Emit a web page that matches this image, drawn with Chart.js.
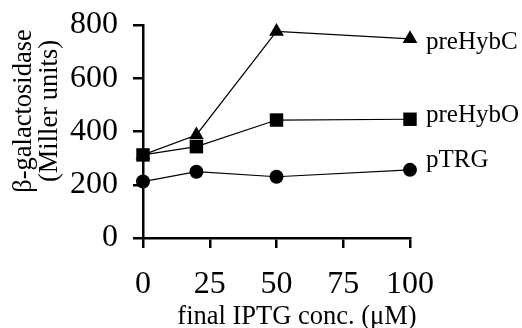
<!DOCTYPE html>
<html>
<head>
<meta charset="utf-8">
<script src="https://cdn.jsdelivr.net/npm/chart.js@4"></script>
<style>
  html, body { margin: 0; padding: 0; background: #fff; }
  #wrap { width: 522px; height: 328px; position: relative; }
</style>
</head>
<body>
<div id="wrap"><canvas id="chart"></canvas></div>
<script>
/* ── data ── */
const iptg      = [0, 20, 50, 100];          // final IPTG conc. (µM)
const pTRG      = [212, 249, 230, 256];
const preHybO   = [312, 343, 443, 446];
const preHybC   = [312, 387, 776, 748];
const xTicks    = [0, 25, 50, 75, 100];
const yTicks    = [0, 200, 400, 600, 800];

const SERIF = '"Liberation Serif", "Times New Roman", serif';
const INK   = '#000';

const pts = ys => iptg.map((x, i) => ({ x, y: ys[i] }));

/* end-of-line labels + axis titles drawn on the canvas */
const labelOffsets = { pTRG: -3, preHybO: 3, preHybC: 10 };

const annotate = {
  id: 'annotate',
  afterDraw(chart) {
    const { ctx } = chart;
    ctx.save();
    ctx.fillStyle = INK;

    // series names next to the last point
    ctx.font = '25px ' + SERIF;
    ctx.textAlign = 'left';
    ctx.textBaseline = 'alphabetic';
    chart.data.datasets.forEach((ds, i) => {
      const last = chart.getDatasetMeta(i).data[ds.data.length - 1];
      ctx.fillText(ds.label, last.x + 16, last.y + labelOffsets[ds.label]);
    });

    // x title
    ctx.font = '26.5px ' + SERIF;
    ctx.textAlign = 'center';
    ctx.fillText('final IPTG conc. (\u03BCM)', 297, 324);

    // y title, two rotated lines
    ctx.translate(0, 111);
    ctx.rotate(-Math.PI / 2);
    ctx.textBaseline = 'middle';
    ctx.fillText('\u03B2-galactosidase', 0, 24);
    ctx.fillText('(Miller units)', 0, 50);
    ctx.restore();
  }
};

const common = {
  borderColor: INK,
  backgroundColor: INK,
  borderWidth: 1.2,
  pointBorderWidth: 0,
  pointBackgroundColor: INK,
  tension: 0,
  clip: false,
  showLine: true
};

new Chart(document.getElementById('chart'), {
  type: 'scatter',
  data: {
    datasets: [
      { ...common, label: 'pTRG',    data: pts(pTRG),    pointStyle: 'circle',   pointRadius: 7 },
      { ...common, label: 'preHybO', data: pts(preHybO), pointStyle: 'rect',     pointRadius: 9.5 },
      { ...common, label: 'preHybC', data: pts(preHybC), pointStyle: 'triangle', pointRadius: 8.5 }
    ]
  },
  options: {
    responsive: true,
    maintainAspectRatio: false,
    animation: false,
    layout: { padding: { left: 0, right: 112, top: 25, bottom: 0 } },
    plugins: { legend: { display: false }, tooltip: { enabled: false } },
    scales: {
      x: {
        type: 'linear',
        min: 0, max: 100,
        afterBuildTicks: s => { s.ticks = xTicks.map(v => ({ value: v })); },
        afterFit: s => { s.height = 90; s.paddingLeft = 0; s.paddingRight = 0; },
        border: { color: INK, width: 2.5 },
        grid: { drawOnChartArea: false, drawTicks: true, tickLength: 10, color: INK, lineWidth: 2.5 },
        ticks: { color: INK, font: { family: SERIF, size: 32 }, padding: 17, maxRotation: 0 }
      },
      y: {
        min: 0, max: 800,
        afterBuildTicks: s => { s.ticks = yTicks.map(v => ({ value: v })); },
        afterFit: s => { s.width = 143; s.paddingTop = 0; s.paddingBottom = 0; },
        border: { color: INK, width: 2.5 },
        grid: { drawOnChartArea: false, drawTicks: true, tickLength: 10, color: INK, lineWidth: 2.5 },
        ticks: { color: INK, font: { family: SERIF, size: 32 }, padding: 15 }
      }
    }
  },
  plugins: [annotate]
});
</script>
</body>
</html>
